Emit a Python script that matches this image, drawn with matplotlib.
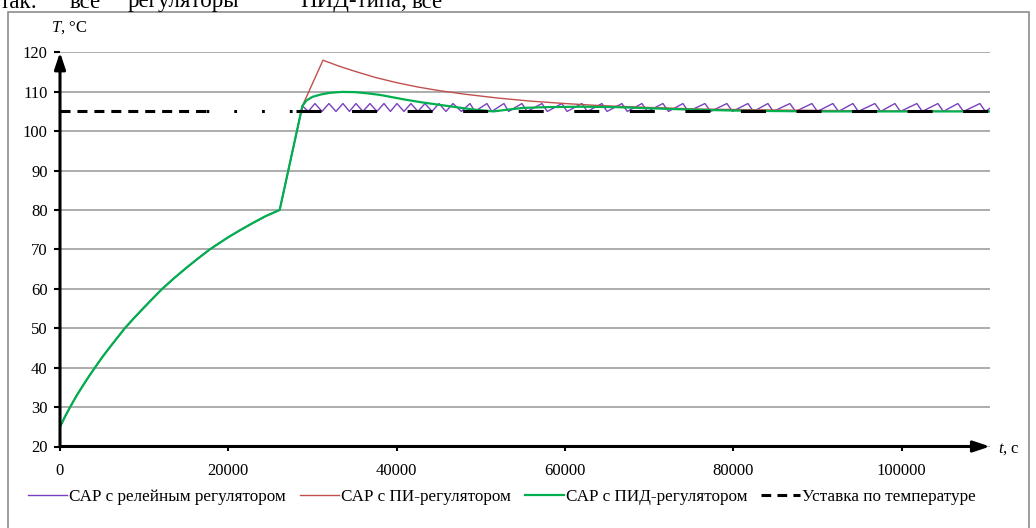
import matplotlib
matplotlib.use('Agg')
import numpy as np
import matplotlib.pyplot as plt
from matplotlib.lines import Line2D
from matplotlib.patches import Rectangle

plt.rcParams['font.family'] = ['Liberation Serif', 'DejaVu Serif']
plt.rcParams['mathtext.fontset'] = 'custom'
plt.rcParams['mathtext.it'] = 'Liberation Serif:italic'
plt.rcParams['mathtext.rm'] = 'Liberation Serif'
plt.rcParams['lines.scale_dashes'] = False

# heating stage (common for all three systems)
heat_t = [0, 600, 1200, 2000, 2800, 3500, 4150, 5000, 6000, 7000, 7700, 8800, 10000,
          11000, 12150, 13500, 15000, 16400, 17800, 19000, 20000, 21500, 23000, 24500,
          26100, 28800]
heat_T = [25, 27.6, 30, 33.0, 35.7, 38.0, 40, 42.6, 45.4, 48.1, 50, 52.6, 55.3,
          57.5, 60, 62.6, 65.3, 67.7, 70, 71.7, 73.1, 75.0, 76.8, 78.5,
          80, 106.4]

# PI controller after the knee
pi_t = [31250, 33000, 35000, 37500, 40000, 42500, 45000, 48000, 52000, 56000, 60000,
        64000, 70000, 76000, 83000, 90000, 100000, 110500]
pi_T = [118, 116.6, 115.2, 113.6, 112.3, 111.2, 110.3, 109.4, 108.4, 107.6, 107.0,
        106.5, 106.0, 105.6, 105.4, 105.25, 105.1, 105.0]

# PID controller after the knee
pid_t = [29300, 30000, 31000, 32000, 33500, 35000, 36500, 38000, 39500, 41000, 43000,
         45000, 47000, 49000, 51500, 53000, 55000, 58000, 62000, 66000, 70000, 76000,
         82000, 90000, 100000, 110500]
pid_T = [107.8, 108.7, 109.3, 109.7, 109.95, 109.9, 109.6, 109.2, 108.6, 108.0, 107.3,
         106.7, 106.1, 105.5, 105.0, 105.4, 105.9, 106.1, 106.2, 106.1, 105.8, 105.4,
         105.15, 105.0, 105.0, 105.0]

# relay controller: switching points (peaks ~107, troughs ~105)
relay_peak_t = [30294, 31957, 33621, 35165, 36828, 38491, 40036, 41699, 43362, 45026,
                46689, 48709, 50728, 52748, 54886, 57262, 59638, 62014, 64390, 66766,
                69142, 71636, 74012, 76626, 79240, 81734, 84110, 86724, 89338, 91833,
                94209, 96823, 99200, 101813, 104308, 106684, 109298]
relay_trough_t = [29500, 31126, 32789, 34393, 35997, 37660, 39264, 40868, 42531, 44194,
                  45858, 47699, 49300, 51300, 53300, 55500, 57900, 60250, 62650, 65000,
                  67400, 69800, 72300, 74650, 77300, 79900, 82400, 84750, 87400, 90000,
                  92500, 94850, 97500, 99850, 102450, 104950, 107350, 109950]
relay_peak_T = 107.0
relay_trough_T = 105.0
relay_end = (110500, 105.8)

setpoint = 105.0
t_max = 110500

relay_t = list(heat_t)
relay_T = list(heat_T)
for i in range(len(relay_trough_t)):
    relay_t.append(relay_trough_t[i]); relay_T.append(relay_trough_T)
    if i < len(relay_peak_t):
        relay_t.append(relay_peak_t[i]); relay_T.append(relay_peak_T)
relay_t.append(relay_end[0]); relay_T.append(relay_end[1])

c_relay = '#7A3FBF'
c_pi = '#C0504D'
c_pid = '#00B050'

fig = plt.figure(figsize=(10.36, 5.28), dpi=100)
ax = fig.add_axes([60/1036, 1-446.5/528, 930/1036, 394.2/528])

ax.plot(relay_t, relay_T, color=c_relay, lw=1.0, zorder=3)
ax.plot(heat_t + pi_t, heat_T + pi_T, color=c_pi, lw=1.0, zorder=4)
ax.plot(heat_t + pid_t, heat_T + pid_T, color=c_pid, lw=1.6, zorder=5)

# setpoint line (dash pattern differs along the line as in the original)
ax.plot([0, 17300], [setpoint, setpoint], color='black', lw=2.2, dashes=(7.2, 5), zorder=6)
ax.plot([17300, 28000], [setpoint, setpoint], color='black', lw=2.2, dashes=(2, 18), zorder=6)
ax.plot([28000, t_max], [setpoint, setpoint], color='black', lw=2.2, dashes=(18, 22), zorder=6)

ax.set_xlim(0, t_max)
ax.set_ylim(20, 120)
ax.set_yticks(np.arange(20, 121, 10))
ax.set_xticks([0, 20000, 40000, 60000, 80000, 100000])
ax.set_xticklabels(['0', '20000', '40000', '60000', '80000', '100000'])
ax.yaxis.grid(True, color='#a6a6a6', lw=1.3)
ax.set_axisbelow(True)
for s in ax.spines.values():
    s.set_visible(False)
ax.tick_params(axis='y', direction='out', length=4, width=1.5, labelsize=12, pad=5)
ax.tick_params(axis='x', direction='out', length=3, width=1.5, labelsize=12, pad=9)

arrow = dict(arrowstyle='-|>,head_length=0.9,head_width=0.3', lw=2.2, color='black',
             shrinkA=0, shrinkB=0, mutation_scale=11)
ax.annotate('', xy=(0, 1), xytext=(0, 0), xycoords='axes fraction', arrowprops=arrow,
            annotation_clip=False, zorder=7)
ax.annotate('', xy=(1, 0), xytext=(0, 0), xycoords='axes fraction', arrowprops=arrow,
            annotation_clip=False, zorder=7)

fig.text(69/1036, 1-28/528, r'$T$, °C', fontsize=12, ha='center', va='center')
fig.text(998/1036, 1-449/528, r'$t$, с', fontsize=12, ha='left', va='center')

# frame around the chart
fig.patches.append(Rectangle((7.5/1036, -0.1), 1021/1036, 1.1-12/528, transform=fig.transFigure,
                             fill=False, edgecolor='#8c8c8c', lw=1.2))

# clipped line of document text above the chart
top_words = ['так:', 'все', 'регуляторы', 'ПИД-типа,', 'все']
top_x = [0, 70, 128, 300, 412]
for w, x in zip(top_words, top_x):
    fig.text(x/1036, 1-7.5/528, w, fontsize=16.5, ha='left', va='baseline')

handles = [Line2D([], [], color=c_relay, lw=1.0),
           Line2D([], [], color=c_pi, lw=1.0),
           Line2D([], [], color=c_pid, lw=1.6),
           Line2D([], [], color='black', lw=2.2, dashes=(7, 4.5))]
labels = ['САР с релейным регулятором', 'САР с ПИ-регулятором',
          'САР с ПИД-регулятором', 'Уставка по температуре']
fig.legend(handles, labels, ncol=4, loc='center', bbox_to_anchor=(502/1036, 1-497/528),
           frameon=False, fontsize=12.3, handlelength=2.3, handletextpad=0.12,
           columnspacing=0.8)

fig.savefig('out.png', dpi=100)
